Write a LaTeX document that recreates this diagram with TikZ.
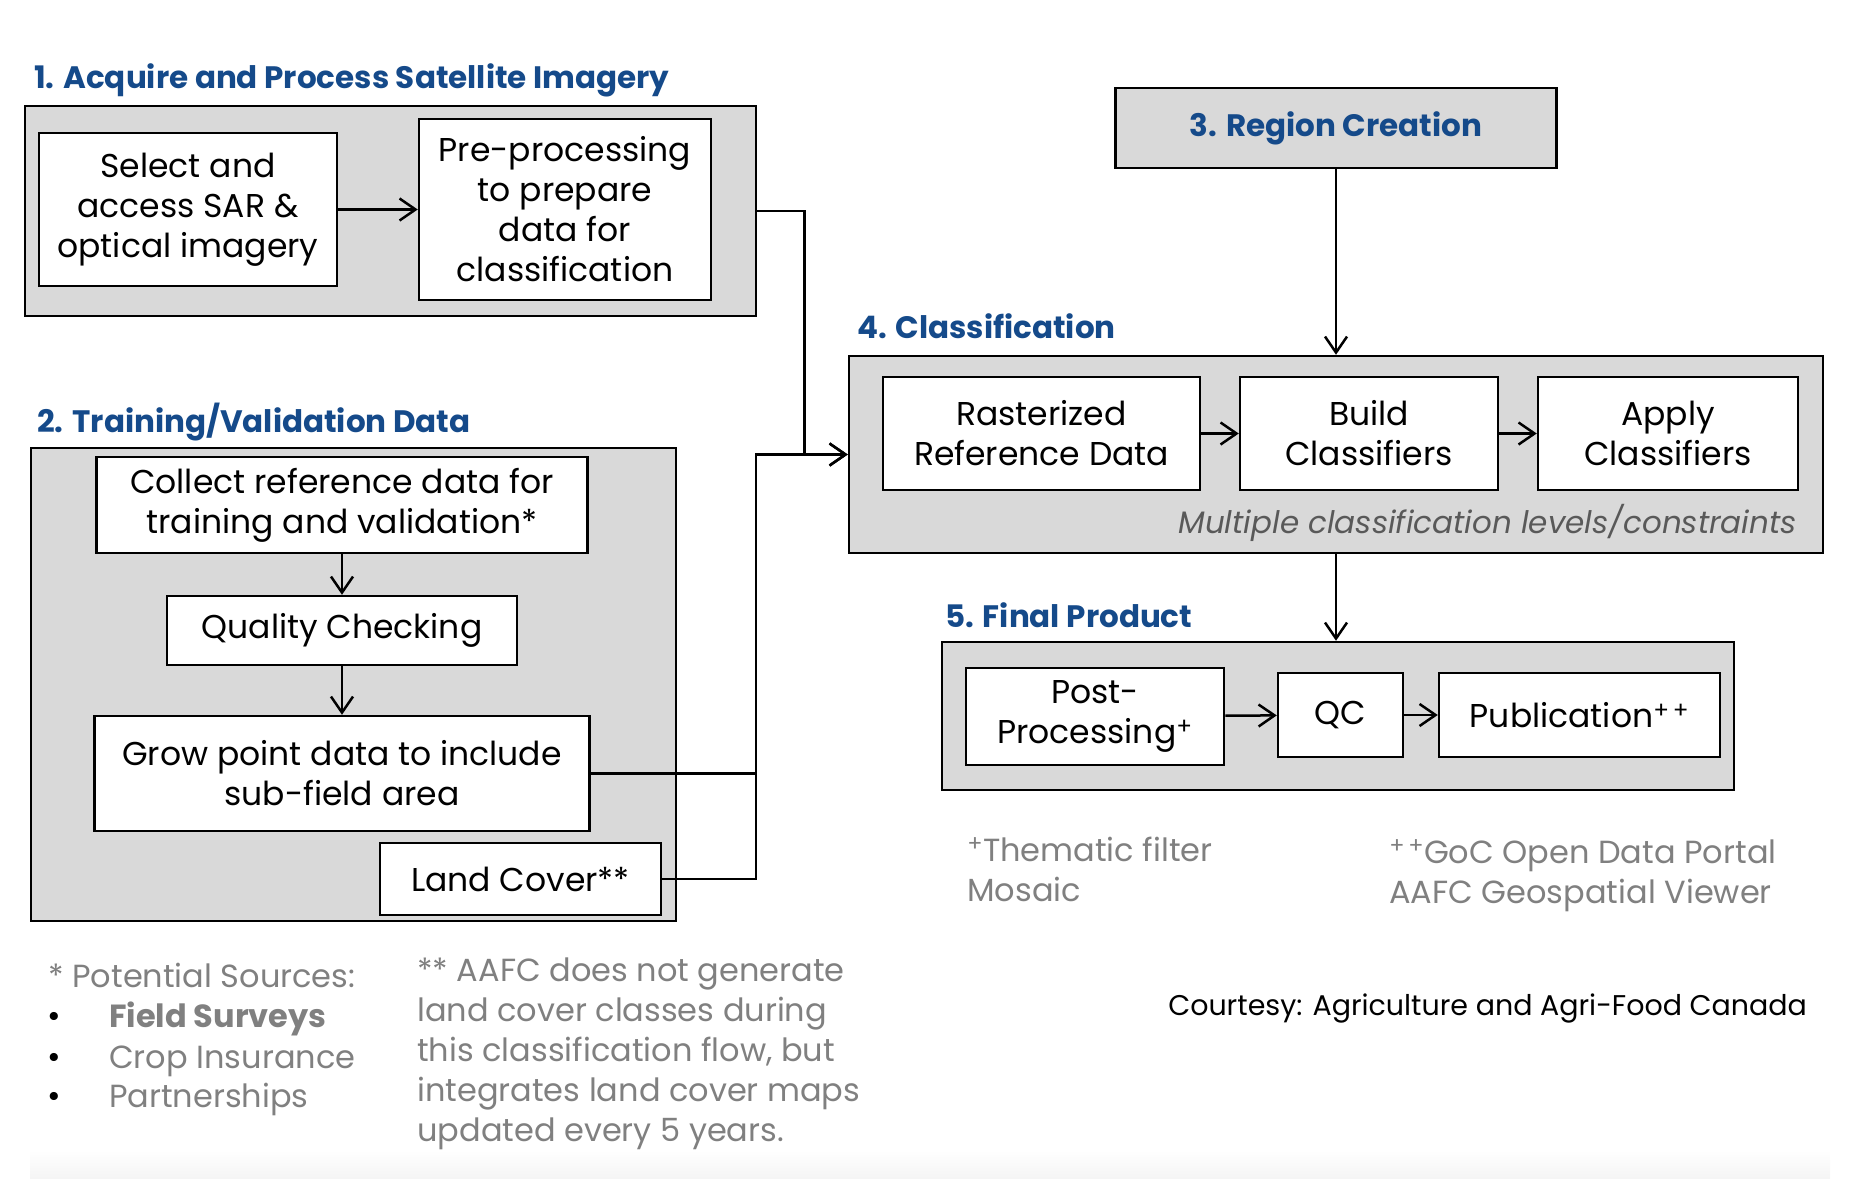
\documentclass[tikz,border=0pt]{standalone}
\usepackage{fontspec}
\setmainfont{Poppins}
\usetikzlibrary{arrows.meta}
\definecolor{titleblue}{RGB}{21,74,138}
\definecolor{panelgray}{RGB}{217,217,217}
\definecolor{notegray}{RGB}{128,128,128}
\definecolor{levelgray}{RGB}{89,89,89}
\newcommand{\bodyfont}{\fontsize{33}{40}\selectfont}
\newcommand{\headfont}{\fontsize{31}{40}\selectfont\bfseries}
\newcommand{\notefont}{\fontsize{32}{40}\selectfont}

\begin{document}
\begin{tikzpicture}[->,>={Straight Barb[length=16pt,width=22pt]},x=1pt,y=-1pt,line width=2.5pt,
                    panel/.style={draw,fill=panelgray,inner sep=0pt},
                    box node/.style={draw,fill=white,inner sep=0pt,align=center,font=\bodyfont},
                    head/.style={anchor=base west,inner sep=0pt,text=titleblue,font=\headfont},
                    note/.style={anchor=base west,inner sep=0pt,text=notegray,font=\notefont,align=left}]

  \useasboundingbox (0,0) rectangle (1862,1178);
  \shade[top color=white,bottom color=black!4] (30,1150) rectangle (1830,1178);

  % panels
  \node[panel,minimum width=731,minimum height=210] (acq) at (390.5,211) {};
  \node[panel,minimum width=645,minimum height=473] (train) at (353.5,684.5) {};
  \node[panel,minimum width=441,minimum height=80,text=titleblue,font=\headfont] (region) at (1336,128) {3. Region Creation};
  \node[panel,minimum width=974,minimum height=197] (class) at (1336,454.5) {};
  \node[panel,minimum width=792,minimum height=148] (final) at (1338,716) {};

  \node[head] (h1) at (33,88) {1. Acquire and Process Satellite Imagery};
  \node[head] (h2) at (36,432) {2. Training/Validation Data};
  \node[head] (h4) at (856,338) {4. Classification};
  \node[head] (h5) at (944,627) {5. Final Product};

  % 1
  \node[box node,minimum width=298,minimum height=153] (sel) at (188,209.5) {Select and\\access SAR \&\\optical imagery};
  \node[box node,minimum width=292,minimum height=181] (pre) at (565,209.5) {Pre-processing\\to prepare\\data for\\classification};

  % 2
  \node[box node,minimum width=491,minimum height=96] (collect) at (342,505) {Collect reference data for\\training and validation*};
  \node[box node,minimum width=350,minimum height=69] (quality) at (342,630.5) {Quality Checking};
  \node[box node,minimum width=495,minimum height=115] (grow) at (342,773.5) {Grow point data to include\\sub-field area};
  \node[box node,minimum width=281,minimum height=72] (land) at (520.5,879) {Land Cover**};

  % 4
  \node[box node,minimum width=317,minimum height=113] (raster) at (1041.5,433.5) {Rasterized\\Reference Data};
  \node[box node,minimum width=258,minimum height=113] (build) at (1369,433.5) {Build\\Classifiers};
  \node[box node,minimum width=260,minimum height=113] (apply) at (1668,433.5) {Apply\\Classifiers};
  \node[anchor=base east,inner sep=0pt,text=levelgray,font=\fontsize{31}{40}\selectfont\itshape] (levels) at (1798,533) {Multiple classification levels/constraints};

  % 5
  \node[box node,minimum width=258,minimum height=97] (post) at (1095,716.5) {Post-\\Processing\textsuperscript{+}};
  \node[box node,minimum width=125,minimum height=84] (qc) at (1340.5,715) {QC};
  \node[box node,minimum width=281,minimum height=84] (pub) at (1579.5,715) {Publication\textsuperscript{+\,+}};

  % notes
  \node[note] (src) at (47,987) {* Potential Sources:};
  \node[note,text=black,font=\bodyfont] (b1) at (46,1027) {\textbullet};
  \node[note,text=black,font=\bodyfont] (b2) at (46,1068) {\textbullet};
  \node[note,text=black,font=\bodyfont] (b3) at (46,1107) {\textbullet};
  \node[note,font=\notefont\bfseries] (s1) at (108,1027) {Field Surveys};
  \node[note] (s2) at (108,1068) {Crop Insurance};
  \node[note] (s3) at (108,1107) {Partnerships};
  \node[note] (lcnote) at (416,1141) {** AAFC does not generate\\land cover classes during\\this classification flow, but\\integrates land cover maps\\updated every 5 years.};
  \node[note] (ppnote) at (966,901) {\textsuperscript{+}Thematic filter\\Mosaic};
  \node[note] (pubnote) at (1388,903) {\textsuperscript{+\,+}GoC Open Data Portal\\AAFC Geospatial Viewer};
  \node[note,text=black,font=\fontsize{28.5}{34}\selectfont] (credit) at (1167,1015) {Courtesy: Agriculture and Agri-Food Canada};

  \coordinate (jn) at (756,454.5);

  \draw (sel) -- (pre);
  \draw (acq.east) -- ++(47,0) |- (class.west);
  \draw (collect) -- (quality);
  \draw (quality) -- (grow);
  \draw[-] (grow.east) -- (grow.east -| jn);
  \draw (land.east) -| (jn) -- (class.west);
  \draw (region) -- (class);
  \draw (raster) -- (build);
  \draw (build) -- (apply);
  \draw (class.south) -- (class.south |- final.north);
  \draw (post) -- (qc);
  \draw (qc) -- (pub);
\end{tikzpicture}
\end{document}
